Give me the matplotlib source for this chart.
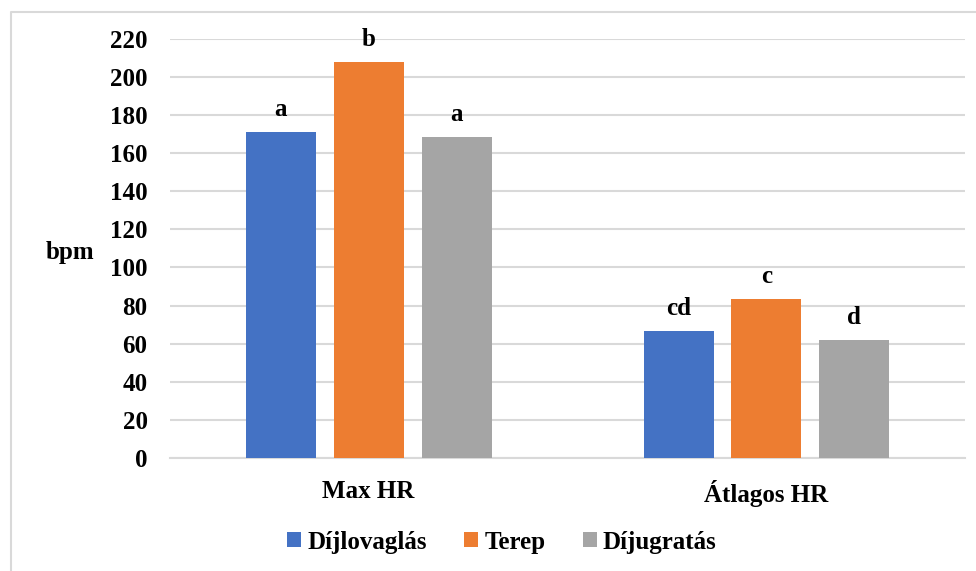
import matplotlib.pyplot as plt
import numpy as np
from matplotlib.lines import Line2D

categories = ['Max HR', 'Átlagos HR']
series = ['Díjlovaglás', 'Terep', 'Díjugratás']
values = {
    'Díjlovaglás': [171, 66.5],
    'Terep': [208, 83.5],
    'Díjugratás': [168.5, 62],
}
letters = {
    'Díjlovaglás': ['a', 'cd'],
    'Terep': ['b', 'c'],
    'Díjugratás': ['a', 'd'],
}
colors = ['#4472c4', '#ed7d31', '#a5a5a5']

plt.rcParams['font.family'] = 'serif'
plt.rcParams['font.serif'] = ['Liberation Serif', 'DejaVu Serif']
plt.rcParams['font.weight'] = 'bold'

fig = plt.figure(figsize=(9.76, 5.71), dpi=100)
ax = fig.add_axes([0.174, 0.198, 0.815, 0.734])

x = np.arange(len(categories))
width = 0.176
offset = 0.221

for i, (name, col) in enumerate(zip(series, colors)):
    pos = x + (i - 1) * offset
    bars = ax.bar(pos, values[name], width, color=col, label=name, zorder=3)
    for b, txt in zip(bars, letters[name]):
        ax.annotate(txt, (b.get_x() + b.get_width() / 2, b.get_height()),
                    xytext=(0, 8), textcoords='offset points',
                    ha='center', va='bottom', fontsize=18, fontweight='bold')

ax.set_xlim(-0.5, 1.5)
ax.set_ylim(0, 220)
ax.set_yticks(np.arange(0, 221, 20))
ax.yaxis.grid(True, color='#d9d9d9', linewidth=1.5, zorder=0)
ax.set_axisbelow(True)
for s in ['top', 'right', 'left']:
    ax.spines[s].set_visible(False)
ax.spines['bottom'].set_color('#d9d9d9')
ax.spines['bottom'].set_linewidth(1.5)
ax.tick_params(axis='both', length=0, labelsize=18)
ax.tick_params(axis='y', pad=16)
ax.tick_params(axis='x', pad=16)
ax.set_xticks(x)
ax.set_xticklabels(categories, fontweight='bold')
for lbl in ax.get_yticklabels():
    lbl.set_fontweight('bold')

fig.text(70 / 976, 1 - 252 / 571, 'bpm', ha='center', va='center',
         fontsize=18, fontweight='bold')

fig.legend(loc='center', bbox_to_anchor=(502 / 976, 1 - 542 / 571), ncol=3,
           frameon=False, fontsize=18, handlelength=0.55, handleheight=0.55,
           handletextpad=0.25, columnspacing=1.5)

# light frame around the chart area
fig.add_artist(Line2D([11 / 976, 11 / 976, 1], [0, 1 - 12 / 571, 1 - 12 / 571],
                      transform=fig.transFigure, color='#d9d9d9', linewidth=1.5))

fig.savefig('out.png', dpi=100, facecolor='white')
